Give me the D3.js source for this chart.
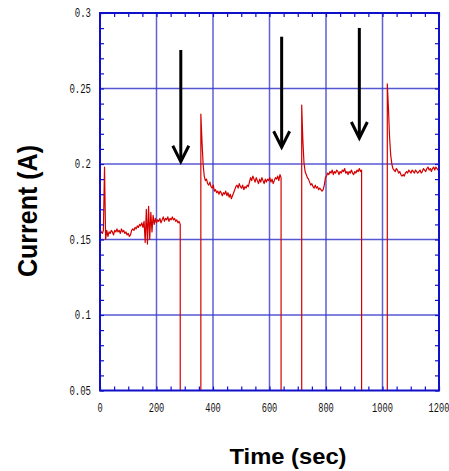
<!DOCTYPE html>
<html>
<head>
<meta charset="utf-8">
<script src="https://cdn.jsdelivr.net/npm/d3@7"></script>
<style>
  body { margin: 0; background: #fff; }
  svg { display: block; }
</style>
</head>
<body>
<svg width="449" height="471"></svg>
<script>
// axis ticks
const xTicks = [0, 200, 400, 600, 800, 1000, 1200]
const yTicks = [0.05, 0.1, 0.15, 0.2, 0.25, 0.3]
const yTickLabels = ['0.05', '0.1', '0.15', '0.2', '0.25', '0.3']
const xMinorStep = 50
const yMinorStep = 0.01

// current trace, sampled every 4 s, one array per "on" period
const sampleStep = 4
const segStart = [0, 357, 714, 1017]
const seg1 = [0.157, 0.155, 0.154, 0.156, 0.198, 0.150, 0.156, 0.152, 0.155, 0.154,
  0.156, 0.155, 0.153, 0.156, 0.155, 0.157, 0.155, 0.156, 0.154, 0.157,
  0.155, 0.156, 0.154, 0.155, 0.153, 0.154, 0.152, 0.153, 0.156, 0.157,
  0.156, 0.158, 0.157, 0.159, 0.158, 0.160, 0.159, 0.161, 0.158, 0.162,
  0.148, 0.170, 0.147, 0.172, 0.150, 0.168, 0.155, 0.166, 0.160, 0.164,
  0.161, 0.163, 0.162, 0.164, 0.161, 0.163, 0.165, 0.162, 0.164, 0.163,
  0.165, 0.162, 0.164, 0.163, 0.165, 0.163, 0.164, 0.162, 0.163, 0.161,
  0.162, 0.160]
const seg2 = [0.233, 0.215, 0.200, 0.192, 0.189, 0.190, 0.187, 0.186, 0.188, 0.185,
  0.184, 0.186, 0.182, 0.183, 0.181, 0.182, 0.180, 0.182, 0.181, 0.179,
  0.181, 0.180, 0.182, 0.179, 0.181, 0.178, 0.180, 0.177, 0.179, 0.181,
  0.183, 0.185, 0.186, 0.184, 0.187, 0.185, 0.184, 0.186, 0.183, 0.185,
  0.184, 0.186, 0.185, 0.188, 0.191, 0.189, 0.192, 0.190, 0.188, 0.191,
  0.189, 0.187, 0.190, 0.188, 0.191, 0.189, 0.187, 0.190, 0.188, 0.190,
  0.189, 0.191, 0.188, 0.190, 0.187, 0.189, 0.191, 0.190, 0.192, 0.189,
  0.193, 0.191]
const seg3 = [0.239, 0.216, 0.201, 0.195, 0.193, 0.191, 0.190, 0.188, 0.186, 0.187,
  0.185, 0.184, 0.186, 0.184, 0.185, 0.183, 0.184, 0.183, 0.182, 0.183,
  0.186, 0.191, 0.192, 0.194, 0.193, 0.195, 0.194, 0.196, 0.193, 0.195,
  0.194, 0.196, 0.195, 0.193, 0.195, 0.194, 0.196, 0.195, 0.197, 0.194,
  0.195, 0.193, 0.195, 0.194, 0.196, 0.194, 0.193, 0.195, 0.194, 0.196,
  0.195, 0.197, 0.195, 0.196]
const seg4 = [0.253, 0.237, 0.218, 0.206, 0.200, 0.197, 0.196, 0.195, 0.197, 0.196,
  0.194, 0.195, 0.193, 0.192, 0.193, 0.192, 0.194, 0.195, 0.194, 0.196,
  0.195, 0.194, 0.196, 0.195, 0.194, 0.196, 0.195, 0.194, 0.195, 0.196,
  0.194, 0.195, 0.197, 0.196, 0.195, 0.197, 0.198, 0.196, 0.197, 0.195,
  0.197, 0.198, 0.196, 0.198, 0.197, 0.196]
const segments = [seg1, seg2, seg3, seg4]

// arrows marking the switch-off moments (time, top, tip)
const arrowTime = [286, 643, 918]
const arrowTop = [0.2755, 0.2843, 0.2901]
const arrowTip = [0.2015, 0.2111, 0.2172]

const svg = d3.select('svg')
const x = d3.scaleLinear().domain([0, 1200]).range([100, 439])
const y = d3.scaleLinear().domain([0.05, 0.3]).range([390.5, 13])

const gridColor = '#3838cc'
const axisColor = '#1010c8'

// grid lines
svg.append('g')
  .selectAll('line')
  .data(xTicks.slice(1, -1))
  .enter().append('line')
    .attr('x1', d => x(d)).attr('x2', d => x(d))
    .attr('y1', y(0.3)).attr('y2', y(0.05))
    .attr('stroke', gridColor).attr('stroke-opacity', 0.8).attr('stroke-width', 1.5)

svg.append('g')
  .selectAll('line')
  .data(yTicks.slice(1, -1))
  .enter().append('line')
    .attr('x1', x(0)).attr('x2', x(1200))
    .attr('y1', d => y(d)).attr('y2', d => y(d))
    .attr('stroke', gridColor).attr('stroke-opacity', 0.85).attr('stroke-width', 1.5)

// build the trace: off periods drop to zero (clipped at the bottom)
const points = []
segments.forEach((vals, k) => {
  const t0 = segStart[k]
  if (k > 0) points.push([t0, 0])
  vals.forEach((v, i) => points.push([t0 + i * sampleStep, v]))
  if (k < segments.length - 1) points.push([t0 + (vals.length - 1) * sampleStep, 0])
})

svg.append('clipPath').attr('id', 'plot')
  .append('rect')
    .attr('x', x(0)).attr('y', y(0.3))
    .attr('width', x(1200) - x(0)).attr('height', y(0.05) - y(0.3))

const line = d3.line().x(d => x(d[0])).y(d => y(d[1]))

svg.append('path')
  .datum(points)
  .attr('clip-path', 'url(#plot)')
  .attr('d', line)
  .attr('fill', 'none')
  .attr('stroke', '#d40000')
  .attr('stroke-width', 1.2)
  .attr('stroke-linejoin', 'round')

// axes, ticks pointing inward on all four sides
const minorX = d3.range(0, 1200 + 1, xMinorStep)
const minorY = d3.range(0.05, 0.3 + 1e-9, yMinorStep)

function styleAxis(g) {
  g.select('.domain').remove()
  g.selectAll('line').attr('stroke', axisColor).attr('stroke-width', 1.2)
  g.selectAll('text').remove()
}

svg.append('g').attr('transform', `translate(0,${y(0.05)})`)
  .call(d3.axisBottom(x).tickValues(minorX).tickSizeInner(-4).tickSizeOuter(0)).call(styleAxis)
svg.append('g').attr('transform', `translate(0,${y(0.3)})`)
  .call(d3.axisTop(x).tickValues(minorX).tickSizeInner(-4).tickSizeOuter(0)).call(styleAxis)
svg.append('g').attr('transform', `translate(${x(0)},0)`)
  .call(d3.axisLeft(y).tickValues(minorY).tickSizeInner(-4).tickSizeOuter(0)).call(styleAxis)
svg.append('g').attr('transform', `translate(${x(1200)},0)`)
  .call(d3.axisRight(y).tickValues(minorY).tickSizeInner(-4).tickSizeOuter(0)).call(styleAxis)

// frame
svg.append('rect')
  .attr('x', x(0)).attr('y', y(0.3))
  .attr('width', x(1200) - x(0)).attr('height', y(0.05) - y(0.3))
  .attr('fill', 'none').attr('stroke', axisColor).attr('stroke-width', 2)

// tick labels
const labelFont = "'Liberation Mono', 'DejaVu Sans Mono', monospace"
svg.append('g')
  .selectAll('text')
  .data(yTicks)
  .enter().append('text')
    .attr('x', x(0) - 9)
    .attr('y', d => y(d) + 4)
    .attr('text-anchor', 'end')
    .attr('font-family', labelFont)
    .attr('font-size', 12)
    .attr('fill', '#111')
    .attr('textLength', (d, i) => yTickLabels[i].length * 5.4)
    .attr('lengthAdjust', 'spacingAndGlyphs')
    .text((d, i) => yTickLabels[i])

svg.append('g')
  .selectAll('text')
  .data(xTicks)
  .enter().append('text')
    .attr('x', d => x(d))
    .attr('y', y(0.05) + 21)
    .attr('text-anchor', 'middle')
    .attr('font-family', labelFont)
    .attr('font-size', 12)
    .attr('fill', '#111')
    .attr('textLength', d => String(d).length * 5.2)
    .attr('lengthAdjust', 'spacingAndGlyphs')
    .text(d => d)

// axis titles
svg.append('text')
  .attr('transform', 'translate(37,211) rotate(-90)')
  .attr('text-anchor', 'middle')
  .attr('font-family', "'Liberation Sans', Arial, sans-serif")
  .attr('font-weight', 'bold')
  .attr('font-size', 28)
  .attr('textLength', 132)
  .attr('lengthAdjust', 'spacingAndGlyphs')
  .text('Current (A)')

svg.append('text')
  .attr('x', 288)
  .attr('y', 464)
  .attr('text-anchor', 'middle')
  .attr('font-family', "'Liberation Sans', Arial, sans-serif")
  .attr('font-weight', 'bold')
  .attr('font-size', 22)
  .attr('textLength', 117)
  .attr('lengthAdjust', 'spacingAndGlyphs')
  .text('Time (sec)')

// arrows
const arrows = svg.append('g')
  .selectAll('g')
  .data(arrowTime)
  .enter().append('g')
    .attr('stroke', '#000')
    .attr('stroke-width', 3)
    .attr('fill', 'none')

arrows.append('line')
  .attr('x1', d => x(d)).attr('x2', d => x(d))
  .attr('y1', (d, i) => y(arrowTop[i]))
  .attr('y2', (d, i) => y(arrowTip[i]) - 1)

arrows.append('path')
  .attr('stroke-linejoin', 'miter')
  .attr('d', (d, i) => {
    const cx = x(d), ty = y(arrowTip[i])
    return `M${cx - 8},${ty - 16}L${cx},${ty}L${cx + 8},${ty - 16}`
  })
</script>
</body>
</html>
